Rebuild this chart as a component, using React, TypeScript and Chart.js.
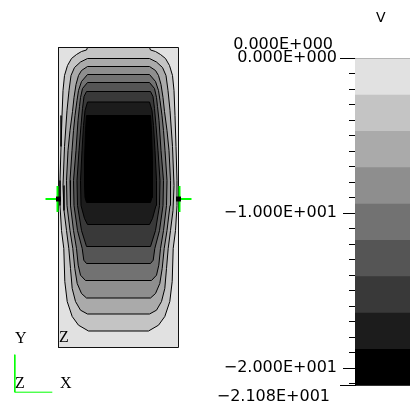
import React, { useEffect, useRef } from "react";
import { Chart, registerables } from "chart.js";
Chart.register(...registerables);

// ---- colour legend (result V) ----
const legendTitle = "V";
const valueMax = 0;
const valueMin = -21.08;
const bandLevels = [0, -2.342, -4.684, -7.027, -9.369, -11.71, -14.05, -16.4, -18.74, -21.08];
const bandColors = ["#e1e1e1", "#c4c4c4", "#aaaaaa", "#8e8e8e", "#727272", "#555555", "#393939", "#1c1c1c", "#000000"];
const tickValues = [0, -1, -2, -3, -4, -5, -6, -7, -8, -9, -10, -11, -12, -13, -14, -15, -16, -17, -18, -19, -20, -21];
const labeledTicks = [0, -10, -20];

// ---- model (width 12, height 30), contour lines: left half, mirrored about x = 6 ----
const modelWidth = 12;
const modelHeight = 30;
const contour1 = [[2.9, 30.0], [2.8, 29.75], [2.3, 29.6], [1.8, 29.3], [1.3, 28.9], [0.9, 28.2], [0.6, 27.2], [0.45, 25.7], [0.35, 23.2], [0.25, 20.1], [0.15, 16.7], [0.15, 14.2], [0.3, 11.7], [0.53, 9.9], [0.63, 6.6], [0.87, 4.6], [1.37, 3.1], [2.0, 2.23], [3.0, 1.65]];
const contour2 = [[2.9, 28.9], [2.2, 28.55], [1.6, 28.0], [1.25, 27.2], [1.05, 25.7], [0.85, 23.7], [0.6, 20.1], [0.45, 16.2], [0.55, 13.7], [0.8, 11.7], [1.03, 9.9], [1.2, 7.9], [1.37, 5.9], [1.7, 4.6], [2.2, 3.73], [2.9, 3.35]];
const contour3 = [[2.9, 28.1], [2.3, 27.7], [2.0, 27.2], [1.75, 26.3], [1.55, 25.0], [1.4, 23.6], [1.15, 21.7], [0.95, 19.7], [0.8, 16.7], [0.85, 14.2], [1.15, 11.7], [1.43, 9.9], [1.63, 7.9], [1.87, 6.4], [2.3, 5.4], [2.8, 4.95]];
const contour4 = [[2.9, 27.3], [2.3, 26.6], [2.0, 25.7], [1.85, 24.7], [1.65, 23.2], [1.5, 21.7], [1.35, 19.7], [1.15, 16.7], [1.2, 14.2], [1.5, 11.7], [1.8, 9.9], [1.97, 8.23], [2.2, 7.23], [2.7, 6.7]];
const contour5 = [[2.9, 26.5], [2.4, 25.9], [2.2, 25.0], [2.1, 24.1], [1.95, 22.7], [1.75, 19.7], [1.5, 16.7], [1.55, 14.2], [1.9, 11.7], [2.37, 9.9], [2.53, 8.73], [2.8, 8.4]];
const contour6 = [[2.8, 25.6], [2.55, 25.1], [2.4, 23.9], [2.25, 22.2], [2.05, 19.7], [1.85, 16.7], [1.9, 14.2], [2.3, 11.7], [2.8, 10.1]];
const contour7 = [[2.9, 24.55], [2.65, 23.7], [2.5, 22.2], [2.35, 19.7], [2.2, 16.7], [2.25, 14.2], [2.6, 12.9], [2.9, 12.3]];
const contour8 = [[2.8, 23.2], [2.7, 21.7], [2.6, 18.7], [2.6, 16.2], [2.65, 15.0], [2.8, 14.5]];
const contours = [contour1, contour2, contour3, contour4, contour5, contour6, contour7, contour8];
const bcNodes = [[0, 14.85], [12, 14.85]];
const triadOrigin = [-4.37, -4.47];

// presentation constants
const markerArm = 1.3;
const triadArm = 3.75;
const GREEN = "#00ff00";

function fmtE(v: number): string {
  if (v === 0) return "0.000E+000";
  const exp = Math.floor(Math.log10(Math.abs(v)));
  const mant = v / Math.pow(10, exp);
  return (mant < 0 ? "\u2212" : "") + Math.abs(mant).toFixed(3) + "E" + (exp < 0 ? "-" : "+") + String(Math.abs(exp)).padStart(3, "0");
}

function mirrored(left: number[][]) {
  const cx = modelWidth / 2;
  const pts = left.map(([x, y]) => ({ x, y }));
  const right = [...left].reverse().map(([x, y]) => ({ x: 2 * cx - x, y }));
  return [...pts, ...right, pts[0]];
}

function plotConfig(): any {
  const base = { showLine: true, pointRadius: 0, borderWidth: 1, tension: 0 };
  const datasets: any[] = [];
  datasets.push({
    ...base,
    data: [{ x: 0, y: 0 }, { x: modelWidth, y: 0 }, { x: modelWidth, y: modelHeight }, { x: 0, y: modelHeight }, { x: 0, y: 0 }],
    backgroundColor: bandColors[0], borderColor: "#111", fill: "shape", order: 40,
  });
  contours.forEach((c, k) => {
    datasets.push({ ...base, data: mirrored(c), backgroundColor: bandColors[k + 1], borderColor: "#000", fill: "shape", order: 30 - k });
  });
  bcNodes.forEach(([x, y]) => {
    const dir = x < modelWidth / 2 ? -1 : 1;
    datasets.push({ ...base, borderWidth: 2, borderColor: GREEN, fill: false, order: 2, data: [{ x, y }, { x: x + dir * markerArm, y }] });
    datasets.push({ ...base, borderWidth: 2, borderColor: GREEN, fill: false, order: 2, data: [{ x: x + dir * 0.1, y: y + markerArm }, { x: x + dir * 0.1, y: y - markerArm }] });
  });
  datasets.push({
    showLine: false, data: bcNodes.map(([x, y]) => ({ x, y })), pointStyle: "rect", pointRadius: 3.5,
    backgroundColor: "#000", borderColor: "#000", borderWidth: 0, order: 1,
  });
  const [ox, oy] = triadOrigin;
  datasets.push({ ...base, borderColor: GREEN, fill: false, order: 2, data: [{ x: ox, y: oy + triadArm }, { x: ox, y: oy }, { x: ox + triadArm, y: oy }] });
  return {
    type: "scatter",
    data: { datasets },
    options: {
      responsive: false, maintainAspectRatio: false, animation: false, events: [],
      layout: { padding: 0, autoPadding: false },
      plugins: { legend: { display: false }, tooltip: { enabled: false } },
      scales: {
        x: { type: "linear", display: false, min: -5.85, max: 14.15 },
        y: { type: "linear", display: false, min: -6.45, max: 34.75 },
      },
    },
  };
}

function barConfig(): any {
  const isBound = (v: any) => v === valueMax || v === valueMin;
  return {
    type: "bar",
    data: {
      labels: [legendTitle],
      datasets: bandColors.map((c, i) => ({
        data: [[bandLevels[i + 1], bandLevels[i]]], backgroundColor: c, borderWidth: 0,
        grouped: false, barPercentage: 1, categoryPercentage: 1,
      })),
    },
    options: {
      responsive: false, maintainAspectRatio: false, animation: false, events: [],
      layout: { padding: { top: 58, bottom: 27, left: 0, right: 0 }, autoPadding: false },
      plugins: { legend: { display: false }, tooltip: { enabled: false } },
      scales: {
        x: { display: false },
        y: {
          type: "linear", min: valueMin, max: valueMax, z: 1,
          afterBuildTicks: (s: any) => { s.ticks = [...tickValues, valueMin].map((v) => ({ value: v })); },
          afterFit: (s: any) => { s.width = 155; },
          border: { display: true, color: "#000", width: 1 },
          grid: {
            drawOnChartArea: true,
            color: (ctx: any) => (ctx.tick && isBound(ctx.tick.value) ? "#333" : "rgba(0,0,0,0)"),
            tickLength: 15,
            tickColor: "#000",
            tickBorderDash: (ctx: any) => {
              const v = ctx.tick ? ctx.tick.value : null;
              if (isBound(v)) return [];
              if (labeledTicks.includes(v)) return [0, 3, 30, 0];
              return [0, 9, 30, 0];
            },
          },
          ticks: {
            autoSkip: false, padding: 3, color: "#000",
            font: { family: "DejaVu Sans", size: 16 },
            callback: (v: any) => (labeledTicks.includes(v) ? fmtE(v) : ""),
          },
        },
      },
    },
  };
}

const sans = "DejaVu Sans";
const serif = "Liberation Serif";

function Txt(props: { s: any; children: any }) {
  return <div style={{ position: "absolute", whiteSpace: "nowrap", color: "#000", ...props.s }}>{props.children}</div>;
}

export default function App() {
  const plotRef = useRef<HTMLCanvasElement>(null);
  const barRef = useRef<HTMLCanvasElement>(null);
  useEffect(() => {
    const c1 = new Chart(plotRef.current as HTMLCanvasElement, plotConfig());
    const c2 = new Chart(barRef.current as HTMLCanvasElement, barConfig());
    return () => { c1.destroy(); c2.destroy(); };
  }, []);
  return (
    <div style={{ position: "absolute", left: 0, top: 0, width: 410, height: 412, overflow: "hidden", background: "#fff" }}>
      <canvas ref={plotRef} width={200} height={412} style={{ position: "absolute", left: 0, top: 0, width: 200, height: 412 }} />
      <canvas ref={barRef} width={220} height={412} style={{ position: "absolute", left: 200, top: 0, width: 220, height: 412 }} />
      <Txt s={{ left: 376, top: 10, fontFamily: sans, fontSize: 14, lineHeight: "14px" }}>{legendTitle}</Txt>
      <Txt s={{ right: 77, top: 36, fontFamily: sans, fontSize: 16, lineHeight: "16px" }}>{fmtE(valueMax)}</Txt>
      <Txt s={{ right: 80, top: 388, fontFamily: sans, fontSize: 16, lineHeight: "16px" }}>{fmtE(valueMin)}</Txt>
      <Txt s={{ left: 15, top: 330, fontFamily: serif, fontSize: 16, lineHeight: "16px" }}>Y</Txt>
      <Txt s={{ left: 15, top: 375, fontFamily: serif, fontSize: 16, lineHeight: "16px" }}>Z</Txt>
      <Txt s={{ left: 60, top: 375, fontFamily: serif, fontSize: 16, lineHeight: "16px" }}>X</Txt>
      <Txt s={{ left: 59, top: 329, fontFamily: serif, fontSize: 16, lineHeight: "16px" }}>Z</Txt>
    </div>
  );
}
